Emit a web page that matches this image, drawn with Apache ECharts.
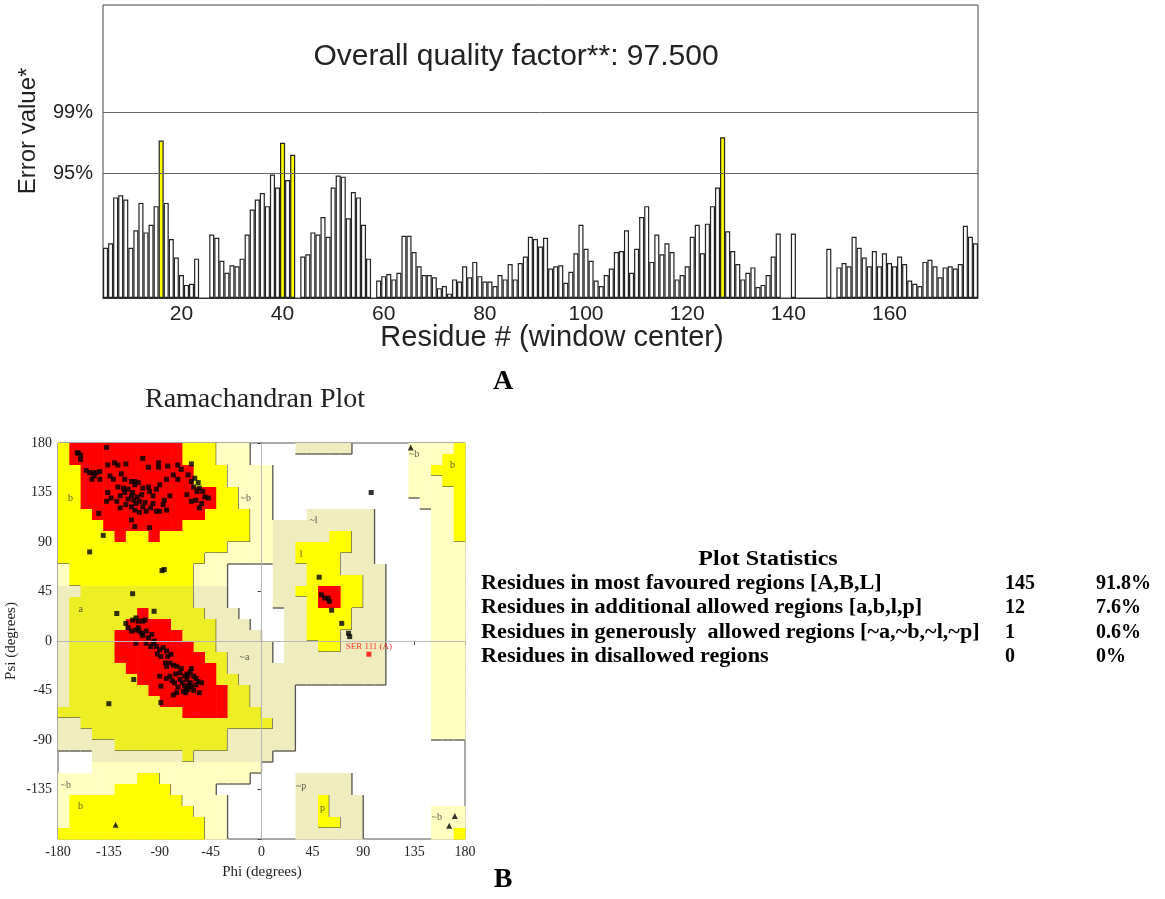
<!DOCTYPE html>
<html><head><meta charset="utf-8">
<script src="https://cdn.jsdelivr.net/npm/echarts@6/dist/echarts.min.js"></script>
<style>html,body{margin:0;padding:0;background:#fff}#c{width:1165px;height:899px}</style>
</head><body><div id="c"></div>
<script>
// ---------- ERRAT (panel A) ----------
const firstResidue = 5;
const errorValues = [
4.6,5.0,9.2,9.4,9.0,4.6,6.2,8.7,6.0,6.7,
8.4,14.4,8.7,5.4,3.7,2.1,1.2,1.3,3.6,0,
0,5.8,5.5,3.4,2.3,3.0,2.9,3.6,5.8,8.1,
9.0,9.6,8.4,11.3,10.1,14.2,10.8,13.1,0,3.8,
4.0,6.0,5.8,7.4,5.6,10.1,11.2,11.1,7.3,9.7,
9.2,6.7,3.6,0,1.6,2.0,2.2,1.7,2.3,5.7,
5.7,4.2,2.9,2.1,2.1,1.9,0.9,1.1,0.4,1.7,
1.5,2.9,1.9,3.3,2.0,1.5,1.5,1.1,2.1,1.7,
3.1,1.7,3.2,3.8,5.6,5.4,4.7,5.5,2.7,2.9,
3.0,1.4,2.4,4.1,6.7,4.5,3.4,1.6,1.1,2.1,
2.7,4.2,4.3,6.2,2.3,4.5,7.4,8.4,3.3,5.8,
4.0,5.0,4.2,1.7,2.1,2.9,5.6,6.7,4.1,6.8,
8.4,10.1,14.7,6.1,4.3,3.1,1.7,2.3,2.8,1.0,
1.2,2.1,3.8,5.9,0,0,5.9,0,0,0,
0,0,0,4.5,0,2.8,3.2,2.9,5.6,4.6,
3.7,2.9,4.3,2.9,4.1,3.2,2.9,3.8,3.1,1.6,
1.3,1.1,3.3,3.5,2.9,1.9,2.8,2.9,2.7,3.1,
6.6,5.6,5.0
];
const limit95 = 11.38;
const limit99 = 16.96;
const errorMax = 26.8;
const limitLabels = ['95%', '99%'];
const qualityText = 'Overall quality factor**: 97.500';

// ---------- Ramachandran (panel B) ----------
// rows from psi 180 (top) downwards in 10 degree steps, columns phi -180..180
// '.' disallowed, p/q generously allowed (light / shaded), y/o additional allowed, r most favoured
const regionRows = [
"y1 r10 y3 p3 .4 q5 .5 p4 y1",
"y1 r10 y3 p3 .14 p3 y2",
"y2 r10 y3 p4 .12 p2 y3",
"y2 r10 y3 p4 .12 p3 y2",
"y2 r12 y2 p3 .12 p4 y1",
"y2 r12 y2 p3 .13 p3 y1",
"y3 r10 y4 p2 .3 q6 .5 p2 y1",
"y4 r7 y6 p2 q9 .5 p2 y1",
"y5 r1 y2 r1 y8 p2 q5 y2 q2 .5 p2 y1",
"y15 p4 q2 y5 q2 .5 p3",
"y13 p6 q2 y4 q3 .5 p3",
"p1 y11 p3 .4 q3 y3 q4 .4 p3",
"p1 y11 p3 .4 q3 y5 q2 .4 p3",
"q2 o10 q3 .4 q2 y2 r2 y2 q2 .4 p3",
"q1 o11 q3 .4 q3 y1 r2 y2 q2 .4 p3",
"q1 o6 r1 o5 q3 .4 q2 y4 q3 .4 p3",
"q1 o5 r4 o4 q3 .3 q2 y4 q3 .4 p3",
"q1 o4 r6 o3 q4 .2 q2 y3 q4 .4 p3",
"q1 o4 r7 o2 q5 .1 q3 y2 q4 .4 p3",
"q1 o4 r8 o2 q4 .1 q9 .4 p3",
"q1 o5 r8 o1 q14 .4 p3",
"q1 o6 r7 o2 q13 .4 p3",
"q1 o7 r7 o2 q4 .12 p3",
"q1 o8 r6 o2 q4 .12 p3",
"o11 r4 o3 q3 .12 p3",
"q2 o17 q2 .12 p3",
"q3 o12 q6 .12 p3",
"q5 o10 q6 .15",
".3 q8 o1 q7 .17",
".3 p15 .18",
"p7 y2 p8 .4 q5 .10",
"p5 y5 p4 .7 q5 .10",
"p1 y10 p4 .6 q2 y1 q3 .9",
"p1 y11 p3 .6 q2 y1 q3 .6 p3",
"p1 y12 p2 .6 q2 y2 q2 .6 p3",
"y13 p2 .6 q6 .6 p2 y1"
];
const regionColors = {'.':'#ffffff', p:'#ffffc2', q:'#efecbe', y:'#ffff00', o:'#eeee24', r:'#ff0000'};
const regionLevel = {'.':0, p:1, q:1, y:2, o:2, r:3};

const betaPoints = [
[-162,171],[-160,169],[-163,171],[-160,165],[-137,176],[-155,155],[-152,153],[-149,153],[-146,153],[-143,154],
[-148,150],[-143,147],[-150,147],[-130,162],[-136,160],[-134,150],[-131,147],[-127,160],[-120,161],[-124,152],
[-121,147],[-115,145],[-112,145],[-105,166],[-100,158],[-91,162],[-91,158],[-83,159],[-74,160],[-71,156],
[-62,161],[-65,151],[-62,145],[-59,148],[-56,144],[-55,139],[-52,136],[-47,130],[-58,128],[-62,127],
[-53,125],[-66,133],[-74,147],[-78,151],[-84,147],[-90,142],[-93,138],[-96,132],[-99,136],[-105,139],
[-109,144],[-112,142],[-114,135],[-115,132],[-118,138],[-121,135],[-122,139],[-125,132],[-128,127],[-133,130],
[-136,135],[-137,127],[-125,121],[-120,124],[-115,122],[-112,119],[-115,110],[-112,104],[-99,103],[-90,118],
[-87,124],[-86,128],[-81,132],[-84,119],[-93,118],[-108,127],[-105,122],[-102,118],[-111,125],[-144,116],
[-118,129],[-110,131],[-106,133],[-103,126],[-96,125],[-113,128],[-100,140],[-127,140],[-108,117],[-98,121],
[-57,136],[-50,131],[-60,140],[-55,121],[-140,96],[-152,81],[-88,64],[-86,65]
];
const alphaPoints = [
[-120,16],[-114,19],[-111,21],[-109,18],[-118,12],[-115,9],[-111,10],[-108,9],[-105,18],[-103,19],
[-109,12],[-106,7],[-102,9],[-97,6],[-100,3],[-111,-2],[-102,-2],[-96,-2],[-93,-5],[-90,-8],
[-87,-6],[-84,-9],[-89,-14],[-83,-14],[-81,-20],[-78,-22],[-84,-23],[-75,-23],[-71,-25],[-72,-29],
[-68,-32],[-66,-35],[-65,-31],[-63,-28],[-62,-25],[-60,-32],[-58,-34],[-56,-37],[-63,-38],[-68,-41],
[-66,-43],[-65,-44],[-69,-46],[-75,-47],[-78,-49],[-77,-38],[-81,-32],[-84,-34],[-89,-41],[-55,-47],
[-53,-38],[-90,-32],[-64,-40],[-62,-42],[-70,-38],[-66,-30],[-72,-35],[-60,-45],[-74,-42],[-58,-40],
[-67,-47],[-85,-20],[-80,-12],[-95,0],[-98,-5],[-105,5],[-92,-12],[-76,-30],[-79,-36],
[-128,25],[-114,43],[-95,27],[-113,-35],[-135,-57],[-89,-56]
];
const leftAlphaPoints = [[51,58],[53,42],[56,39],[59,39],[60,36],[62,28],[71,16],[77,7],[78,4],[97,135]];
const glycinePoints = [[132,176],[171,-159],[166,-168],[-129,-167]];
const outlierPoint = [95,-12];
const outlierName = 'SER 111 (A)';
const regionTags = [
['b',-169,130],['a',-160,29],['~b',-14,130],['~l',46,110],['l',35,79],['~a',-15,-15],
['~b',-173,-131],['b',-160,-150],['~p',35,-132],['p',54,-152],['~b',155,-160],['~b',135,170],['b',169,160]
];
const axisTicks = 45;
const ramaTitle = 'Ramachandran Plot';
const phiName = 'Phi (degrees)';
const psiName = 'Psi (degrees)';

// ---------- Plot statistics ----------
const statTitle = 'Plot Statistics';
const statLabels = [
'Residues in most favoured regions [A,B,L]',
'Residues in additional allowed regions [a,b,l,p]',
'Residues in generously  allowed regions [~a,~b,~l,~p]',
'Residues in disallowed regions'
];
const statCounts = ['145','12','1','0'];
const statPercents = ['91.8%','7.6%','0.6%','0%'];

// ---------- build ----------
const grid = regionRows.map(function (row) {
  let s = '';
  row.split(' ').forEach(function (tok) { s += tok[0].repeat(parseInt(tok.slice(1), 10)); });
  return s;
});
const regionData = [];
grid.forEach(function (row, r) {
  for (let c = 0; c < row.length; c++) {
    if (row[c] !== '.') regionData.push([-180 + 10 * c, 170 - 10 * r, r, c]);
  }
});
function levelAt(r, c) {
  if (r < 0 || r >= grid.length || c < 0 || c >= 36) return 99;
  return regionLevel[grid[r][c]];
}

const residues = errorValues.map(function (v, i) { return String(firstResidue + i); });
const serif = 'Liberation Serif';
const sans = 'Liberation Sans';

const option = {
  animation: false,
  backgroundColor: '#fff',
  grid: [
    {left: 103, top: 5, width: 875, height: 293, show: true, borderColor: '#444', borderWidth: 1},
    {left: 58, top: 443, width: 407, height: 396, show: true, borderColor: '#555', borderWidth: 1}
  ],
  xAxis: [
    {type: 'category', gridIndex: 0, data: residues, boundaryGap: true,
     axisLine: {lineStyle: {color: '#333'}},
     axisTick: {alignWithLabel: true, interval: function (i, v) { return +v % 10 === 0; }, length: 4, lineStyle: {color: '#333'}},
     axisLabel: {interval: function (i, v) { return +v % 20 === 0; }, fontSize: 21, color: '#222', fontFamily: sans, margin: 6}},
    {type: 'value', gridIndex: 1, min: -180, max: 180, interval: axisTicks,
     axisLine: {lineStyle: {color: '#444'}}, splitLine: {show: false},
     axisTick: {length: 4, lineStyle: {color: '#444'}},
     axisLabel: {fontSize: 14, color: '#222', fontFamily: serif, margin: 6}}
  ],
  yAxis: [
    {type: 'value', gridIndex: 0, min: 0, max: errorMax,
     axisLine: {show: false}, axisTick: {show: false}, axisLabel: {show: false}, splitLine: {show: false}},
    {type: 'value', gridIndex: 1, min: -180, max: 180, interval: axisTicks,
     axisLine: {lineStyle: {color: '#444'}}, splitLine: {show: false},
     axisTick: {length: 4, lineStyle: {color: '#444'}},
     axisLabel: {fontSize: 14, color: '#222', fontFamily: serif, margin: 6,
       formatter: function (v) { return v === -180 ? '' : String(v); }}}
  ],
  series: [
    {type: 'bar', xAxisIndex: 0, yAxisIndex: 0, barCategoryGap: '0%',
     itemStyle: {color: '#fff', borderColor: '#222', borderWidth: 1.2},
     data: errorValues.map(function (v) {
       if (v === 0) return '-';
       return {value: v, itemStyle: {color: v > limit95 ? '#ffff00' : '#ffffff'}};
     }),
     markLine: {silent: true, symbol: 'none', animation: false,
       lineStyle: {color: '#666', width: 1, type: 'solid'},
       label: {show: true, position: 'start', distance: 10, formatter: '{b}', fontSize: 20, color: '#222', fontFamily: sans},
       data: [{yAxis: limit95, name: limitLabels[0]}, {yAxis: limit99, name: limitLabels[1]}]}},
    {type: 'custom', xAxisIndex: 1, yAxisIndex: 1, z: 1, silent: true,
     data: regionData, encode: {x: 0, y: 1},
     renderItem: function (params, api) {
       const x0 = api.value(0), y0 = api.value(1), r = api.value(2), c = api.value(3);
       const ch = grid[r][c];
       const p1 = api.coord([x0, y0 + 10]);
       const p2 = api.coord([x0 + 10, y0]);
       const children = [{type: 'rect', shape: {x: p1[0], y: p1[1], width: p2[0] - p1[0] + 0.6, height: p2[1] - p1[1] + 0.6},
         style: {fill: regionColors[ch]}}];
       const lv = regionLevel[ch];
       if (lv < 3) {
         if (levelAt(r, c + 1) < lv) children.push({type: 'line', shape: {x1: p2[0], y1: p1[1], x2: p2[0], y2: p2[1]}, style: {stroke: '#555', lineWidth: 1.3}});
         if (levelAt(r + 1, c) < lv) children.push({type: 'line', shape: {x1: p1[0], y1: p2[1], x2: p2[0], y2: p2[1]}, style: {stroke: '#555', lineWidth: 1.3}});
       }
       return {type: 'group', children: children};
     }},
    {type: 'scatter', xAxisIndex: 1, yAxisIndex: 1, z: 2, silent: true, symbolSize: 0,
     data: regionTags.map(function (t) { return {name: t[0], value: [t[1], t[2]]}; }),
     label: {show: true, position: 'inside', formatter: '{b}', fontSize: 10, color: '#333', fontFamily: serif},
     markLine: {silent: true, symbol: 'none', animation: false, label: {show: false},
       lineStyle: {color: '#b8b8b8', width: 1, type: 'solid'},
       data: [{xAxis: 0}, {yAxis: 0}]}},
    {type: 'scatter', xAxisIndex: 1, yAxisIndex: 1, z: 3, symbol: 'rect', symbolSize: 5,
     itemStyle: {color: '#000'}, data: betaPoints.concat(alphaPoints, leftAlphaPoints)},
    {type: 'scatter', xAxisIndex: 1, yAxisIndex: 1, z: 3, symbol: 'triangle', symbolSize: 6,
     itemStyle: {color: '#000'}, data: glycinePoints},
    {type: 'scatter', xAxisIndex: 1, yAxisIndex: 1, z: 4, symbol: 'rect', symbolSize: 5,
     itemStyle: {color: '#ff0000'},
     data: [{name: outlierName, value: outlierPoint}],
     label: {show: true, position: 'top', distance: 1, formatter: '{b}', fontSize: 9, color: '#ff0000', fontFamily: serif}}
  ],
  graphic: []
};

const g = option.graphic;
g.push({type: 'text', x: 516, y: 57, style: {text: qualityText, fontSize: 30, fontFamily: sans, fill: '#222', align: 'center', verticalAlign: 'middle'}});
g.push({type: 'text', x: 28, y: 131, rotation: Math.PI / 2, style: {text: 'Error value*', fontSize: 24, fontFamily: sans, fill: '#222', align: 'center', verticalAlign: 'middle'}});
g.push({type: 'text', x: 552, y: 338, style: {text: 'Residue # (window center)', fontSize: 29, fontFamily: sans, fill: '#222', align: 'center', verticalAlign: 'middle'}});
g.push({type: 'text', x: 503, y: 382, style: {text: 'A', fontSize: 28, fontWeight: 'bold', fontFamily: serif, fill: '#000', align: 'center', verticalAlign: 'middle'}});
g.push({type: 'text', x: 503, y: 880, style: {text: 'B', fontSize: 28, fontWeight: 'bold', fontFamily: serif, fill: '#000', align: 'center', verticalAlign: 'middle'}});
g.push({type: 'text', x: 255, y: 400, style: {text: ramaTitle, fontSize: 28, fontFamily: serif, fill: '#222', align: 'center', verticalAlign: 'middle'}});
g.push({type: 'text', x: 262, y: 872, style: {text: phiName, fontSize: 15, fontFamily: serif, fill: '#222', align: 'center', verticalAlign: 'middle'}});
g.push({type: 'text', x: 11, y: 641, rotation: Math.PI / 2, style: {text: psiName, fontSize: 15, fontFamily: serif, fill: '#222', align: 'center', verticalAlign: 'middle'}});
g.push({type: 'text', x: 768, y: 560, scaleX: 1.2, style: {text: statTitle, fontSize: 20, fontWeight: 'bold', fontFamily: serif, fill: '#000', align: 'center', verticalAlign: 'middle'}});
const rowY = [584, 608, 633, 657];
statLabels.forEach(function (t, i) {
  g.push({type: 'text', x: 481, y: rowY[i], scaleX: 1.11, style: {text: t, fontSize: 20, fontWeight: 'bold', fontFamily: serif, fill: '#000', align: 'left', verticalAlign: 'middle'}});
  g.push({type: 'text', x: 1005, y: rowY[i], style: {text: statCounts[i], fontSize: 20, fontWeight: 'bold', fontFamily: serif, fill: '#000', align: 'left', verticalAlign: 'middle'}});
  g.push({type: 'text', x: 1096, y: rowY[i], style: {text: statPercents[i], fontSize: 20, fontWeight: 'bold', fontFamily: serif, fill: '#000', align: 'left', verticalAlign: 'middle'}});
});

const chart = echarts.init(document.getElementById('c'));
chart.setOption(option);
</script></body></html>
